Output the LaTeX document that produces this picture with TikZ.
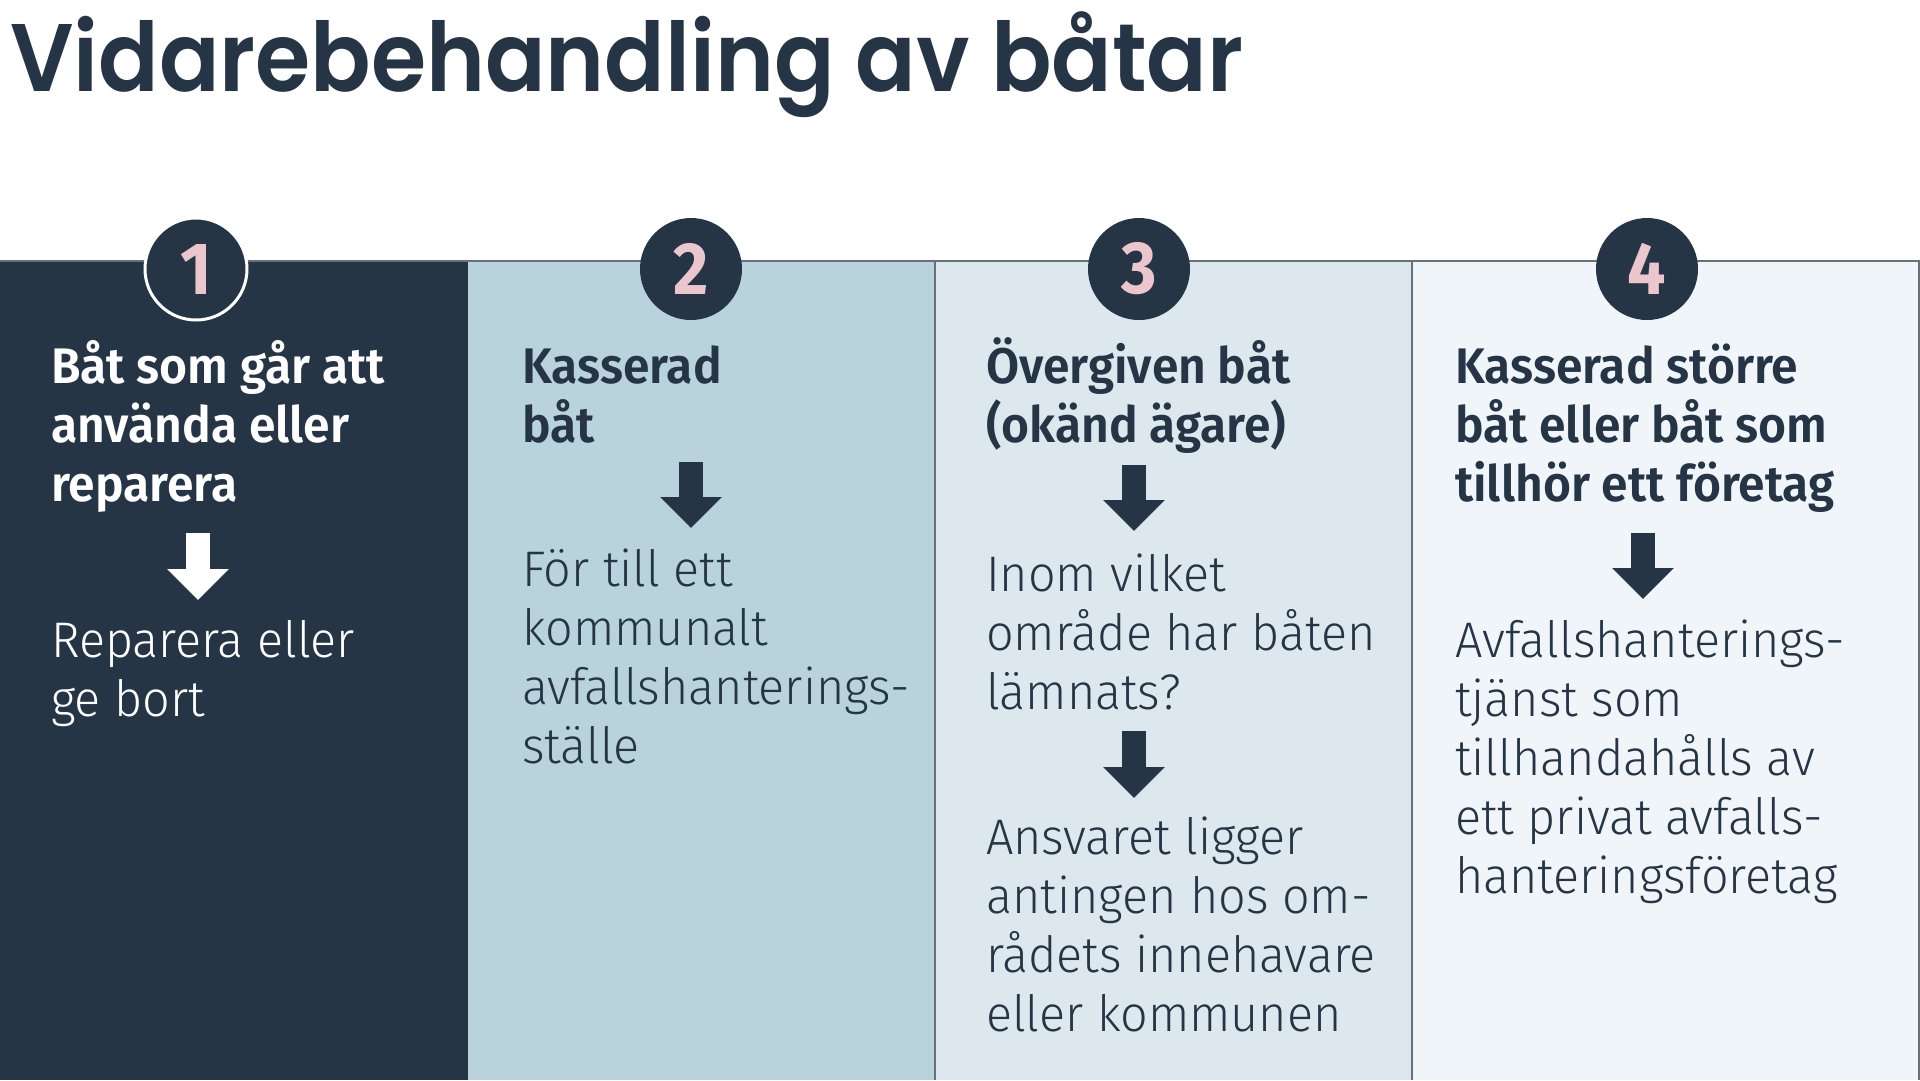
\documentclass[tikz,border=0pt]{standalone}
\usepackage{fontspec}
\newfontfamily\titlefont{Poppins SemiBold}[FakeStretch=0.93]
\newfontfamily\headfont{Fira Sans SemiBold}[FakeStretch=0.96]
\newfontfamily\bodyfont{Fira Sans Light}[FakeStretch=0.97]
\newfontfamily\numfont{Fira Sans Bold}[FakeStretch=0.92]
\usetikzlibrary{arrows.meta}
\usetikzlibrary{positioning}
\definecolor{navy}{HTML}{253545}
\definecolor{seablue}{HTML}{B9D3DC}
\definecolor{paleblue}{HTML}{DCE8EE}
\definecolor{iceblue}{HTML}{EFF5F9}
\definecolor{rosa}{HTML}{EBC7CD}
\definecolor{rulegray}{HTML}{66717C}

\begin{document}
\begin{tikzpicture}[x=1pt,y=-1pt,
	head/.style={anchor=base west, align=left, inner sep=0pt, text=navy,
		font=\headfont\fontsize{50}{59}\selectfont},
	body/.style={anchor=base west, align=left, inner sep=0pt, text=navy,
		font=\bodyfont\fontsize{50}{59}\selectfont},
	stepnum/.style={circle, fill=navy, minimum size=102pt, inner sep=0pt, text=rosa,
		font=\numfont\fontsize{74}{74}\selectfont},
	downarrow/.style={draw=navy, line width=24pt, -{Triangle[length=31pt, width=60pt]}}]
	\useasboundingbox (0,0) rectangle (1920,1080);
	% columns
	\fill[navy] (0,261) rectangle (468,1080);
	\fill[seablue] (468,261) rectangle (935,1080);
	\fill[paleblue] (935,261) rectangle (1412,1080);
	\fill[iceblue] (1412,261) rectangle (1920,1080);
	\draw[rulegray, line width=1.5pt] (0,261) -- (1920,261);
	\draw[rulegray, line width=1.2pt] (935,261) -- (935,1080);
	\draw[rulegray, line width=1.2pt] (1412,261) -- (1412,1080);
	\draw[rulegray, line width=1.5pt] (1919,261) -- (1919,1080);
	\node[anchor=base west, inner sep=0pt, text=navy,
		font=\titlefont\fontsize{96}{96}\selectfont] (title) at (10,91) {Vidarebehandling av båtar};
	% numbers
	\node[stepnum, draw=white, line width=3pt] (n1) at (196,269) {1};
	\node[stepnum] (n2) at (691,269) {2};
	\node[stepnum] (n3) at (1139,269) {3};
	\node[stepnum] (n4) at (1647,269) {4};
	% texts (placed at the baseline of their last line)
	\node[head, text=white] (h1) at (51,501) {Båt som går att\\använda eller\\reparera};
	\node[body, text=white] (b1) at (51,716) {Reparera eller\\ge bort};
	\node[head] (h2) at (522,442) {Kasserad\\båt};
	\node[body] (b2) at (522,763) {För till ett\\kommunalt\\avfallshanterings-\\ställe};
	\node[head] (h3) at (986,442) {Övergiven båt\\(okänd ägare)};
	\node[body] (b3) at (986,709) {Inom vilket\\område har båten\\lämnats?};
	\node[body] (b3b) at (986,1031) {Ansvaret ligger\\antingen hos om-\\rådets innehavare\\eller kommunen};
	\node[head] (h4) at (1455,501) {Kasserad större\\båt eller båt som\\tillhör ett företag};
	\node[body] (b4) at (1455,893) {Avfallshanterings-\\tjänst som\\tillhandahålls av\\ett privat avfalls-\\hanteringsföretag};
	% arrows
	\coordinate (a1s) at (198,533); \coordinate (a1e) at (198,600);
	\coordinate (a2s) at (691,462); \coordinate (a2e) at (691,528);
	\coordinate (a3s) at (1134,465); \coordinate (a3e) at (1134,531);
	\coordinate (a5s) at (1134,731); \coordinate (a5e) at (1134,798);
	\coordinate (a4s) at (1643,533); \coordinate (a4e) at (1643,599);
	\draw[downarrow, draw=white] (a1s) -- (a1e);
	\draw[downarrow] (a2s) -- (a2e);
	\draw[downarrow] (a3s) -- (a3e);
	\draw[downarrow] (a5s) -- (a5e);
	\draw[downarrow] (a4s) -- (a4e);
\end{tikzpicture}
\end{document}
